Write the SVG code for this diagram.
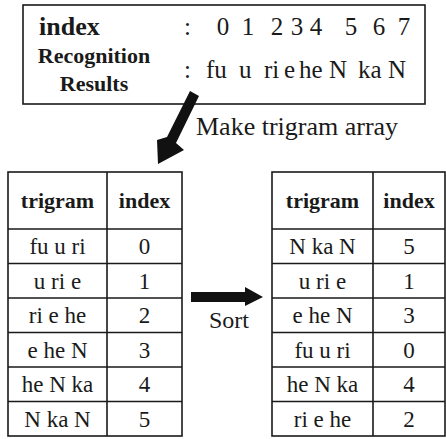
<svg xmlns="http://www.w3.org/2000/svg" width="446" height="439" viewBox="0 0 446 439" font-family="Liberation Serif">
<defs>
<polygon id="sort-arrow-shape" points="191,292 245,292 245,287 263,297 245,306 245,302 191,302"/>
</defs>
<rect width="446" height="439" fill="#fff"/>
<g id="recognition-results" fill="#1a1a1a" font-size="25">
<rect x="23" y="5" width="402" height="99" fill="#fff" stroke="#1a1a1a" stroke-width="1.6"/>
<text style="font-family:'Liberation Serif'" font-weight="bold" font-size="26" x="39" y="35">index</text>
<text style="font-family:'Liberation Serif'" x="184" y="35">:</text>
<text style="font-family:'Liberation Serif'" text-anchor="middle" x="223" y="35">0</text>
<text style="font-family:'Liberation Serif'" text-anchor="middle" x="248" y="35">1</text>
<text style="font-family:'Liberation Serif'" text-anchor="middle" x="277" y="35">2</text>
<text style="font-family:'Liberation Serif'" text-anchor="middle" x="297" y="35">3</text>
<text style="font-family:'Liberation Serif'" text-anchor="middle" x="316" y="35">4</text>
<text style="font-family:'Liberation Serif'" text-anchor="middle" x="351" y="35">5</text>
<text style="font-family:'Liberation Serif'" text-anchor="middle" x="379" y="35">6</text>
<text style="font-family:'Liberation Serif'" text-anchor="middle" x="404" y="35">7</text>
<text style="font-family:'Liberation Serif'" font-weight="bold" text-anchor="middle" x="94" y="63" font-size="22">Recognition</text>
<text style="font-family:'Liberation Serif'" font-weight="bold" text-anchor="middle" x="94" y="91" font-size="22">Results</text>
<text style="font-family:'Liberation Serif'" x="184" y="78">:</text>
<text style="font-family:'Liberation Serif'" x="206" y="78">fu</text>
<text style="font-family:'Liberation Serif'" x="239" y="78">u</text>
<text style="font-family:'Liberation Serif'" x="264" y="78">ri</text>
<text style="font-family:'Liberation Serif'" x="284" y="78">e</text>
<text style="font-family:'Liberation Serif'" x="299" y="78">he</text>
<text style="font-family:'Liberation Serif'" x="329" y="78">N</text>
<text style="font-family:'Liberation Serif'" x="358" y="78">ka</text>
<text style="font-family:'Liberation Serif'" x="388" y="78">N</text>
</g>
<g id="connectors" fill="#111">
<g id="make-trigram-arrow">
<polygon points="190,91 199,96 176,143 184,150 158,164 157,140 167,137"/>
<text style="font-family:'Liberation Serif'" fill="#1a1a1a" x="196" y="135" font-size="26">Make trigram array</text>
</g>
<g id="sort-arrow">
<use href="#sort-arrow-shape"/>
<text style="font-family:'Liberation Serif'" fill="#1a1a1a" text-anchor="middle" x="229" y="328" font-size="24">Sort</text>
</g>
</g>
<g id="trigram-table" fill="#1a1a1a" text-anchor="middle" font-size="23">
<rect x="8" y="172" width="174" height="264" fill="#fff" stroke="#1a1a1a" stroke-width="1.6"/>
<path d="M107,172V436M8,229H182M8,263.5H182M8,298H182M8,332.5H182M8,367H182M8,401.5H182" fill="none" stroke="#1a1a1a" stroke-width="1.6"/>
<text style="font-family:'Liberation Serif'" font-weight="bold" font-size="22" x="57.5" y="208">trigram</text>
<text style="font-family:'Liberation Serif'" font-weight="bold" font-size="22" x="144.5" y="208">index</text>
<text style="font-family:'Liberation Serif'" x="57.5" y="254">fu u ri</text>
<text style="font-family:'Liberation Serif'" x="144.5" y="254">0</text>
<text style="font-family:'Liberation Serif'" x="57.5" y="288.5">u ri e</text>
<text style="font-family:'Liberation Serif'" x="144.5" y="288.5">1</text>
<text style="font-family:'Liberation Serif'" x="57.5" y="323">ri e he</text>
<text style="font-family:'Liberation Serif'" x="144.5" y="323">2</text>
<text style="font-family:'Liberation Serif'" x="57.5" y="357.5">e he N</text>
<text style="font-family:'Liberation Serif'" x="144.5" y="357.5">3</text>
<text style="font-family:'Liberation Serif'" x="57.5" y="392">he N ka</text>
<text style="font-family:'Liberation Serif'" x="144.5" y="392">4</text>
<text style="font-family:'Liberation Serif'" x="57.5" y="426.5">N ka N</text>
<text style="font-family:'Liberation Serif'" x="144.5" y="426.5">5</text>
</g>
<g id="sorted-trigram-table" fill="#1a1a1a" text-anchor="middle" font-size="23">
<rect x="272" y="172" width="173" height="264" fill="#fff" stroke="#1a1a1a" stroke-width="1.6"/>
<path d="M373,172V436M272,229H445M272,263.5H445M272,298H445M272,332.5H445M272,367H445M272,401.5H445" fill="none" stroke="#1a1a1a" stroke-width="1.6"/>
<text style="font-family:'Liberation Serif'" font-weight="bold" font-size="22" x="322.5" y="208">trigram</text>
<text style="font-family:'Liberation Serif'" font-weight="bold" font-size="22" x="409" y="208">index</text>
<text style="font-family:'Liberation Serif'" x="322.5" y="254">N ka N</text>
<text style="font-family:'Liberation Serif'" x="409" y="254">5</text>
<text style="font-family:'Liberation Serif'" x="322.5" y="288.5">u ri e</text>
<text style="font-family:'Liberation Serif'" x="409" y="288.5">1</text>
<text style="font-family:'Liberation Serif'" x="322.5" y="323">e he N</text>
<text style="font-family:'Liberation Serif'" x="409" y="323">3</text>
<text style="font-family:'Liberation Serif'" x="322.5" y="357.5">fu u ri</text>
<text style="font-family:'Liberation Serif'" x="409" y="357.5">0</text>
<text style="font-family:'Liberation Serif'" x="322.5" y="392">he N ka</text>
<text style="font-family:'Liberation Serif'" x="409" y="392">4</text>
<text style="font-family:'Liberation Serif'" x="322.5" y="426.5">ri e he</text>
<text style="font-family:'Liberation Serif'" x="409" y="426.5">2</text>
</g>
</svg>
